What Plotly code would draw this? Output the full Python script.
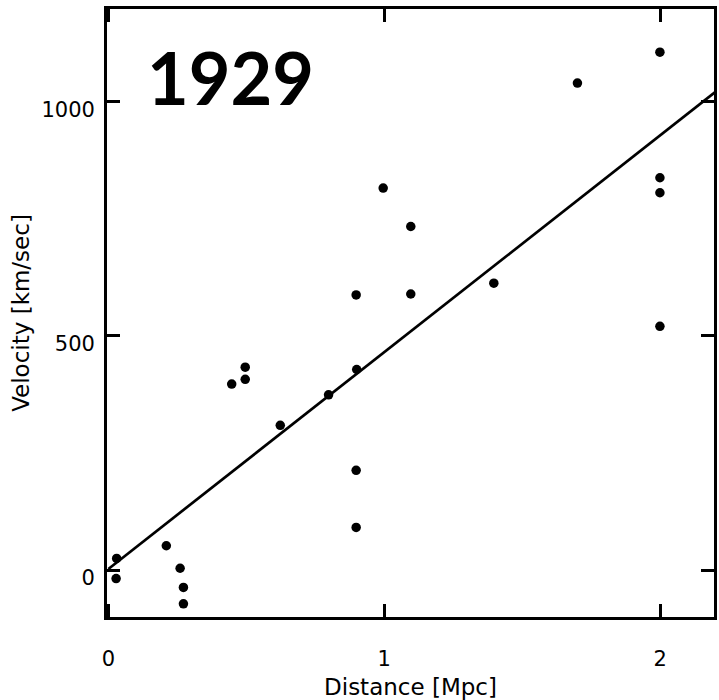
import plotly.graph_objects as go

# Data (Hubble 1929)
distance = [0.030, 0.028, 0.210, 0.260, 0.272, 0.272, 0.447, 0.496, 0.496, 0.623,
            0.798, 0.898, 0.900, 0.898, 0.898, 0.996, 1.096, 1.096, 1.397, 1.700,
            1.999, 1.999, 1.999, 1.999]
velocity = [25, -18, 52, 4, -37, -72, 397, 433, 407, 309,
            374, 587, 428, 213, 91, 815, 733, 589, 612, 1039,
            1105, 837, 805, 520]

fit_intercept = 2.5
fit_slope = 462.5
fit_x = [0.0, 2.2]
fit_y = [fit_intercept + fit_slope * x for x in fit_x]

x_ticks = [0, 1, 2]
y_ticks = [0, 500, 1000]
title_text = "1929"
x_title = "Distance [Mpc]"
y_title = "Velocity [km/sec]"

fig = go.Figure()
fig.add_trace(go.Scatter(x=fit_x, y=fit_y, mode="lines",
                         line=dict(color="black", width=2.7),
                         hoverinfo="skip", showlegend=False))
fig.add_trace(go.Scatter(x=distance, y=velocity, mode="markers",
                         marker=dict(color="black", size=9.5, line=dict(width=0)),
                         showlegend=False))

tick_font = dict(family="DejaVu Sans", size=21, color="black")
title_font = dict(family="DejaVu Sans", size=23, color="black")

fig.update_layout(
    width=719, height=700,
    margin=dict(l=107, r=2, t=9, b=81),
    paper_bgcolor="white", plot_bgcolor="white",
    xaxis=dict(range=[-0.005, 2.195], tickvals=x_ticks, ticktext=[str(v) for v in x_ticks],
               showgrid=False, zeroline=False, showline=True, linecolor="black",
               linewidth=2.7, mirror="ticks", ticks="inside", ticklen=13,
               tickwidth=2.5, tickcolor="black", tickfont=tick_font,
               ticklabelstandoff=21,
               title=dict(text=x_title, font=title_font, standoff=11)),
    yaxis=dict(range=[-100, 1197], tickvals=y_ticks, ticktext=[str(v) for v in y_ticks],
               showgrid=False, zeroline=False, showline=True, linecolor="black",
               linewidth=2.7, mirror="ticks", ticks="inside", ticklen=13,
               tickwidth=2.5, tickcolor="black", tickfont=tick_font,
               ticklabelstandoff=5, ticklabelshift=8,
               title=dict(text=y_title, font=title_font, standoff=6)),
    annotations=[dict(text="<b>" + title_text + "</b>", x=0.204, y=0.888,
                      xref="paper", yref="paper", xanchor="center", yanchor="middle",
                      showarrow=False,
                      font=dict(family="Lato", size=72, color="black"))],
)

fig.write_html("out.html")
